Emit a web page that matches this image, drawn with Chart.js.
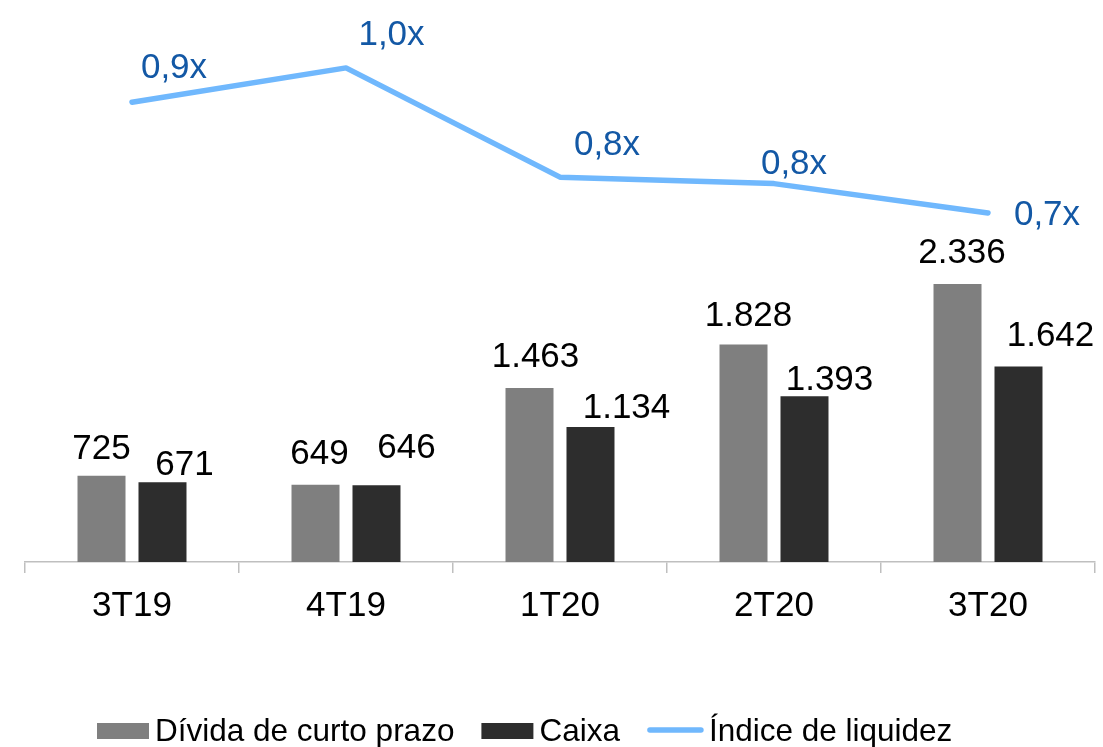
<!DOCTYPE html>
<html>
<head>
<meta charset="utf-8">
<script src="https://cdn.jsdelivr.net/npm/chart.js@4/dist/chart.umd.min.js"></script>
<style>
  html, body { margin: 0; padding: 0; background: #ffffff; }
  #wrap { width: 1103px; height: 747px; }
</style>
</head>
<body>
<div id="wrap"><canvas id="c" width="1103" height="747"></canvas></div>
<script>
const categories = ['3T19', '4T19', '1T20', '2T20', '3T20'];
const dividaCurtoPrazo = [725, 649, 1463, 1828, 2336];
const caixa = [671, 646, 1134, 1393, 1642];
const indiceLiquidez = [0.926, 0.995, 0.775, 0.762, 0.703];
const seriesNames = ['Dívida de curto prazo', 'Caixa', 'Índice de liquidez'];

// label placement tweaks (text centre relative to mark anchor), px
const labelOffsets = [
  [[0, -29], [4, -33], [6, -33], [5, -31], [4.5, -33.5]],
  [[22, -20], [30, -40], [36, -22], [25, -19], [32, -33]],
  [[42, -37], [45.5, -35], [47, -35], [20, -22], [59, 0]]
];

const FONT = '"Liberation Sans", Arial, Helvetica, sans-serif';
const fmtInt = v => v.toLocaleString('de-DE');
const fmtRatio = v => v.toFixed(1).replace('.', ',') + 'x';

const labelPlugin = {
  id: 'valueLabels',
  afterDatasetsDraw(chart) {
    const ctx = chart.ctx;
    ctx.save();
    ctx.textAlign = 'center';
    ctx.textBaseline = 'alphabetic';
    chart.data.datasets.forEach((ds, di) => {
      const meta = chart.getDatasetMeta(di);
      const size = 35;
      ctx.font = size + 'px ' + FONT;
      ctx.fillStyle = di === 2 ? '#1358A5' : '#000000';
      meta.data.forEach((el, i) => {
        const v = ds.data[i];
        const txt = di === 2 ? fmtRatio(v) : fmtInt(v);
        const off = labelOffsets[di][i];
        ctx.fillText(txt, el.x + off[0], el.y + off[1] + size * 0.358);
      });
    });
    ctx.restore();
  }
};

// legend drawn from the chart's datasets, laid out like the original
const legendPlugin = {
  id: 'bottomLegend',
  afterDraw(chart) {
    const ctx = chart.ctx;
    const size = 31.5;
    const cy = 731;
    const boxW = 52, boxH = 16, gapText = 6, gapItem = 27;
    ctx.save();
    ctx.font = size + 'px ' + FONT;
    ctx.textBaseline = 'alphabetic';
    ctx.textAlign = 'left';
    let x = 97;
    chart.data.datasets.forEach(ds => {
      if (ds.type === 'line') {
        ctx.strokeStyle = ds.borderColor;
        ctx.lineWidth = ds.borderWidth;
        ctx.lineCap = 'round';
        ctx.beginPath();
        ctx.moveTo(x + 3, cy - 1);
        ctx.lineTo(x + boxW + 2, cy - 1);
        ctx.stroke();
        x += boxW + 4;
      } else {
        ctx.fillStyle = ds.backgroundColor;
        ctx.fillRect(x, cy - boxH / 2, boxW, boxH);
        x += boxW;
      }
      x += gapText;
      ctx.fillStyle = '#000000';
      ctx.fillText(ds.label, x, cy - 1 + size * 0.358);
      x += ctx.measureText(ds.label).width + gapItem;
    });
    ctx.restore();
  }
};

new Chart(document.getElementById('c'), {
  data: {
    labels: categories,
    datasets: [
      { type: 'bar', label: seriesNames[0], data: dividaCurtoPrazo, backgroundColor: '#7F7F7F',
        yAxisID: 'y', order: 1, categoryPercentage: 0.57, barPercentage: 0.787 },
      { type: 'bar', label: seriesNames[1], data: caixa, backgroundColor: '#2D2D2D',
        yAxisID: 'y', order: 1, categoryPercentage: 0.57, barPercentage: 0.787 },
      { type: 'line', label: seriesNames[2], data: indiceLiquidez, borderColor: '#70B8FD',
        backgroundColor: '#70B8FD', borderWidth: 5.5, pointRadius: 0, tension: 0,
        borderCapStyle: 'round', borderJoinStyle: 'round', yAxisID: 'y1', order: 0 }
    ]
  },
  options: {
    responsive: false,
    animation: false,
    devicePixelRatio: 1,
    layout: { padding: { left: 25, right: 8, top: 10, bottom: 0 } },
    scales: {
      x: {
        offset: true,
        grid: { display: true, offset: true, drawOnChartArea: false, drawTicks: true, tickLength: 11,
                color: '#BFBFBF', lineWidth: 1.5 },
        border: { display: true, color: '#BFBFBF', width: 1.5 },
        ticks: { color: '#000000', font: { family: FONT, size: 35 }, padding: 12, maxRotation: 0 },
        afterFit: s => { s.height = 185; }
      },
      y: { display: false, min: 0, max: 4639 },
      y1: { display: false, min: 0, max: 1.1116, position: 'right' }
    },
    plugins: {
      legend: { display: false },
      tooltip: { enabled: false }
    }
  },
  plugins: [labelPlugin, legendPlugin]
});
</script>
</body>
</html>
